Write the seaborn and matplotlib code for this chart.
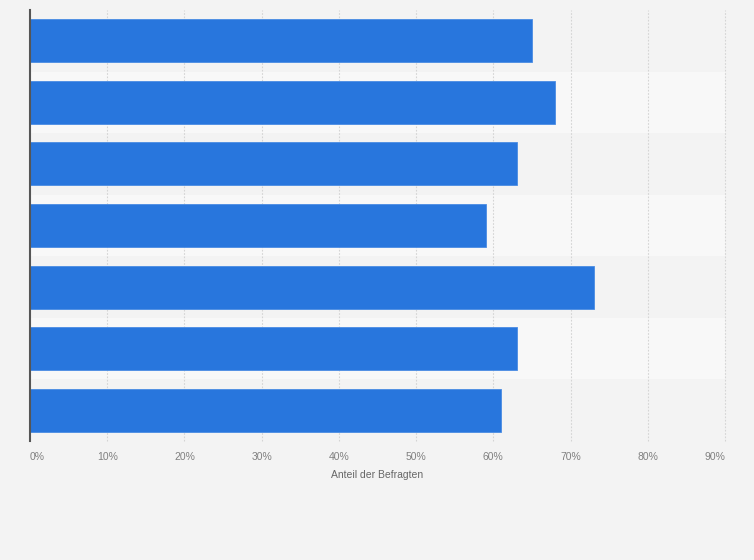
import pandas as pd
import numpy as np
import matplotlib.pyplot as plt
import seaborn as sns

# values (percent of respondents)
categories = ['Kategorie 1', 'Kategorie 2', 'Kategorie 3', 'Kategorie 4',
              'Kategorie 5', 'Kategorie 6', 'Kategorie 7']
shares = [65, 68, 63, 59, 73, 63, 61]
tick_values = [0, 10, 20, 30, 40, 50, 60, 70, 80, 90]
tick_labels = ['0%', '10%', '20%', '30%', '40%', '50%', '60%', '70%', '80%', '90%']

df = pd.DataFrame({'Kategorie': categories, 'Anteil': shares})

sns.set_style('white')
plt.rcParams['font.family'] = ['Liberation Sans', 'DejaVu Sans']

bg = '#f3f3f3'
fig = plt.figure(figsize=(7.54, 5.6), dpi=100, facecolor=bg)
ax = fig.add_axes([30 / 754, 1 - 441 / 560, 695 / 754, 431 / 560])
ax.set_facecolor(bg)

# alternating row bands
for i in range(len(categories)):
    if i % 2 == 1:
        ax.axhspan(i - 0.5, i + 0.5, color='#f8f8f8', zorder=0, lw=0)

sns.barplot(data=df, x='Anteil', y='Kategorie', color='#2876dd', saturation=1,
            width=0.7, edgecolor='#4a8ce3', linewidth=0.6, ax=ax, zorder=3)

ax.set_xlim(0, 90)
ax.set_ylim(len(categories) - 0.5, -0.5)
ax.set_xticks(tick_values)
ax.set_xticklabels(tick_labels, fontsize=7.5, color='#808080')
labels = ax.get_xticklabels()
labels[0].set_ha('left')
labels[-1].set_ha('right')
ax.set_yticks([])
ax.set_ylabel('')
ax.set_xlabel('Anteil der Befragten', fontsize=7.5, color='#666666', labelpad=6)
ax.tick_params(axis='x', length=0, pad=8)

for v in tick_values[1:]:
    ax.axvline(v, color='#d4d4d4', lw=0.8, ls=(0, (1.5, 1.5)), zorder=1,
               clip_on=False)

for s in ['top', 'right', 'bottom']:
    ax.spines[s].set_visible(False)
ax.spines['left'].set_color('#555555')
ax.spines['left'].set_linewidth(1.5)
ax.spines['left'].set_zorder(5)

fig.savefig('out.png', dpi=100, facecolor=bg)
